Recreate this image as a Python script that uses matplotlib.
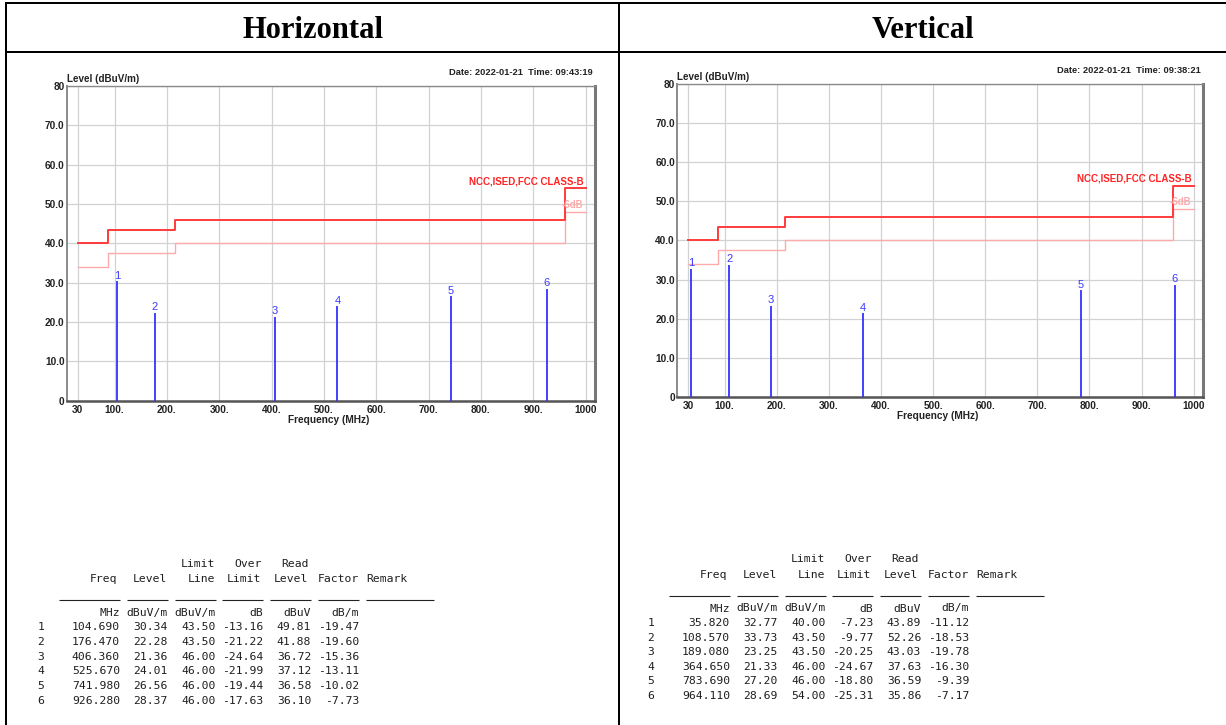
import matplotlib
matplotlib.use('Agg')
import matplotlib.pyplot as plt
from matplotlib.lines import Line2D

# ---------------- data ----------------
panel_titles = ["Horizontal", "Vertical"]
dates = ["Date: 2022-01-21  Time: 09:43:19", "Date: 2022-01-21  Time: 09:38:21"]

h_freq = [104.690, 176.470, 406.360, 525.670, 741.980, 926.280]
h_level = [30.34, 22.28, 21.36, 24.01, 26.56, 28.37]
h_limit = [43.50, 43.50, 46.00, 46.00, 46.00, 46.00]
h_over = [-13.16, -21.22, -24.64, -21.99, -19.44, -17.63]
h_read = [49.81, 41.88, 36.72, 37.12, 36.58, 36.10]
h_factor = [-19.47, -19.60, -15.36, -13.11, -10.02, -7.73]

v_freq = [35.820, 108.570, 189.080, 364.650, 783.690, 964.110]
v_level = [32.77, 33.73, 23.25, 21.33, 27.20, 28.69]
v_limit = [40.00, 43.50, 43.50, 46.00, 46.00, 54.00]
v_over = [-7.23, -9.77, -20.25, -24.67, -18.80, -25.31]
v_read = [43.89, 52.26, 43.03, 37.63, 36.59, 35.86]
v_factor = [-11.12, -18.53, -19.78, -16.30, -9.39, -7.17]

limit_edges = [30, 88, 216, 960, 1000]
limit_vals = [40.0, 43.5, 46.0, 54.0]
margin_db = 6.0
limit_name = "NCC,ISED,FCC CLASS-B"
margin_name = "-6dB"

xticks = [30, 100, 200, 300, 400, 500, 600, 700, 800, 900, 1000]
xticklabels = ["30", "100.", "200.", "300.", "400.", "500.", "600.", "700.", "800.", "900.", "1000"]
yticks = [0, 10, 20, 30, 40, 50, 60, 70, 80]
yticklabels = ["0", "10.0", "20.0", "30.0", "40.0", "50.0", "60.0", "70.0", "80"]

hdr1 = ["Limit", "Over", "Read"]
hdr2 = ["Freq", "Level", "Line", "Limit", "Level", "Factor"]
units = ["MHz", "dBuV/m", "dBuV/m", "dB", "dBuV", "dB/m"]

# ---------------- figure ----------------
W, H = 1226, 725
fig = plt.figure(figsize=(W / 100, H / 100), dpi=100)
fig.patch.set_facecolor('white')


def fx(x):
    return x / W


def fy(y):
    return 1 - y / H


def fig_line(x1, y1, x2, y2, lw=1.44, color='black'):
    fig.add_artist(Line2D([fx(x1), fx(x2)], [fy(y1), fy(y2)], transform=fig.transFigure,
                          color=color, lw=lw, solid_capstyle='butt'))


# outer table borders
fig_line(5.3, 3, 1226, 3)
fig_line(6.3, 2, 6.3, 725)
fig_line(6.3, 52.3, 1226, 52.3)
fig_line(619.3, 3, 619.3, 725)

fig.text(fx(313), fy(30), panel_titles[0], family='Liberation Serif', weight='bold',
         fontsize=22, ha='center', va='center')
fig.text(fx(923), fy(30), panel_titles[1], family='Liberation Serif', weight='bold',
         fontsize=22, ha='center', va='center')

CH = dict(family='Liberation Sans', weight='bold', color='#222222')


def draw_chart(rect, freq, level, date_str):
    l, t, r, b = rect
    ax = fig.add_axes([fx(l), fy(b), (r - l) / W, (b - t) / H])
    ax.set_xlim(8.6, 1018)
    ax.set_ylim(0, 80)
    ax.set_xticks(xticks)
    ax.set_xticklabels(xticklabels)
    ax.set_yticks(yticks)
    ax.set_yticklabels(yticklabels)
    ax.tick_params(axis='both', length=0, labelsize=7.3, labelcolor='#222222')
    ax.tick_params(axis='x', pad=3)
    ax.tick_params(axis='y', pad=1.5)
    for lab in ax.get_xticklabels() + ax.get_yticklabels():
        lab.set_fontweight('bold')
        lab.set_family('Liberation Sans')
    ax.grid(True, color='#d2d2d2', lw=0.9)
    ax.set_axisbelow(True)
    ax.spines['left'].set_color('#8a8a8a')
    ax.spines['left'].set_linewidth(1.4)
    ax.spines['top'].set_color('#8a8a8a')
    ax.spines['top'].set_linewidth(1.0)
    ax.spines['bottom'].set_color('#555555')
    ax.spines['bottom'].set_linewidth(1.8)
    ax.spines['right'].set_color('#777777')
    ax.spines['right'].set_linewidth(2.2)

    lim_y = limit_vals + [limit_vals[-1]]
    mar_y = [v - margin_db for v in lim_y]
    ax.step(limit_edges, mar_y, where='post', color='#ffaaaa', lw=1.0, zorder=2)
    ax.step(limit_edges, lim_y, where='post', color='#ff3b3b', lw=1.4, zorder=3)
    ax.text(996, 55.8, limit_name, color='#ff2222', fontsize=7, weight='bold',
            family='Liberation Sans', ha='right', va='center')
    ax.text(996, 49.7, margin_name, color='#ffaaaa', fontsize=7, weight='bold',
            family='Liberation Sans', ha='right', va='center')

    ax.vlines(freq, 0, level, color='#3333ff', lw=1.3, zorder=4)
    for i, (f, v) in enumerate(zip(freq, level)):
        ax.annotate(str(i + 1), (f, v), xytext=(0, 0.5), textcoords='offset points',
                    ha='center', va='bottom', color='#3a3aff', fontsize=8,
                    family='Liberation Sans')

    fig.text(fx(l), fy(t - 7), "Level (dBuV/m)", fontsize=7.1, ha='left', va='center', **CH)
    fig.text(fx(r - 2), fy(t - 13.5), date_str, fontsize=6.7, ha='right', va='center', **CH)
    fig.text(fx((l + r) / 2 - 2), fy(b + 19.5), "Frequency (MHz)", fontsize=7.3,
             ha='center', va='center', **CH)
    return ax


draw_chart((66.7, 86, 595, 400.7), h_freq, h_level, dates[0])
draw_chart((677, 84, 1203, 396.8), v_freq, v_level, dates[1])

# ---------------- tables ----------------
TB = dict(family='DejaVu Sans Mono', fontsize=8.2, color='#1e1e1e', va='baseline')


def draw_table(xo, yo, freq, level, limit, over, read, factor):
    cw = 6.83
    edges = [120 + 47.8 * k for k in range(6)]
    base = 4.0
    row_dy = 14.6
    # header 1
    for txt, xr in zip(hdr1, [215.6, 261.5, 308.5]):
        fig.text(fx(xr + xo), fy(563 + base + yo), txt, ha='right', **TB)
    # header 2
    for txt, xr in zip(hdr2, [117.5, 167.5, 215.6, 261.5, 308.5, 359.0]):
        fig.text(fx(xr + xo), fy(578.5 + base + yo), txt, ha='right', **TB)
    fig.text(fx(365.8 + xo), fy(578.5 + base + yo), "Remark", ha='left', **TB)
    # underlines
    segs = [(edges[0] - 9 * cw, edges[0])] + [(e - 6 * cw, e) for e in edges[1:]] + \
           [(edges[-1] + cw, edges[-1] + 11 * cw)]
    for a, c in segs:
        fig_line(a + xo, 600 + yo, c + xo, 600 + yo, lw=0.8, color='#222222')
    # units
    for txt, xr in zip(units, edges):
        fig.text(fx(xr + xo), fy(612 + base + yo), txt, ha='right', **TB)
    # rows
    for i in range(len(freq)):
        yc = 626.5 + row_dy * i + base + yo
        fig.text(fx(40.8 + xo), fy(yc), str(i + 1), ha='center', **TB)
        vals = ["%.3f" % freq[i], "%.2f" % level[i], "%.2f" % limit[i],
                "%.2f" % over[i], "%.2f" % read[i], "%.2f" % factor[i]]
        for txt, xr in zip(vals, edges):
            fig.text(fx(xr + xo), fy(yc), txt, ha='right', **TB)


draw_table(0, 0, h_freq, h_level, h_limit, h_over, h_read, h_factor)
draw_table(610, -4.5, v_freq, v_level, v_limit, v_over, v_read, v_factor)

fig.savefig('out.png', dpi=100, facecolor='white')
